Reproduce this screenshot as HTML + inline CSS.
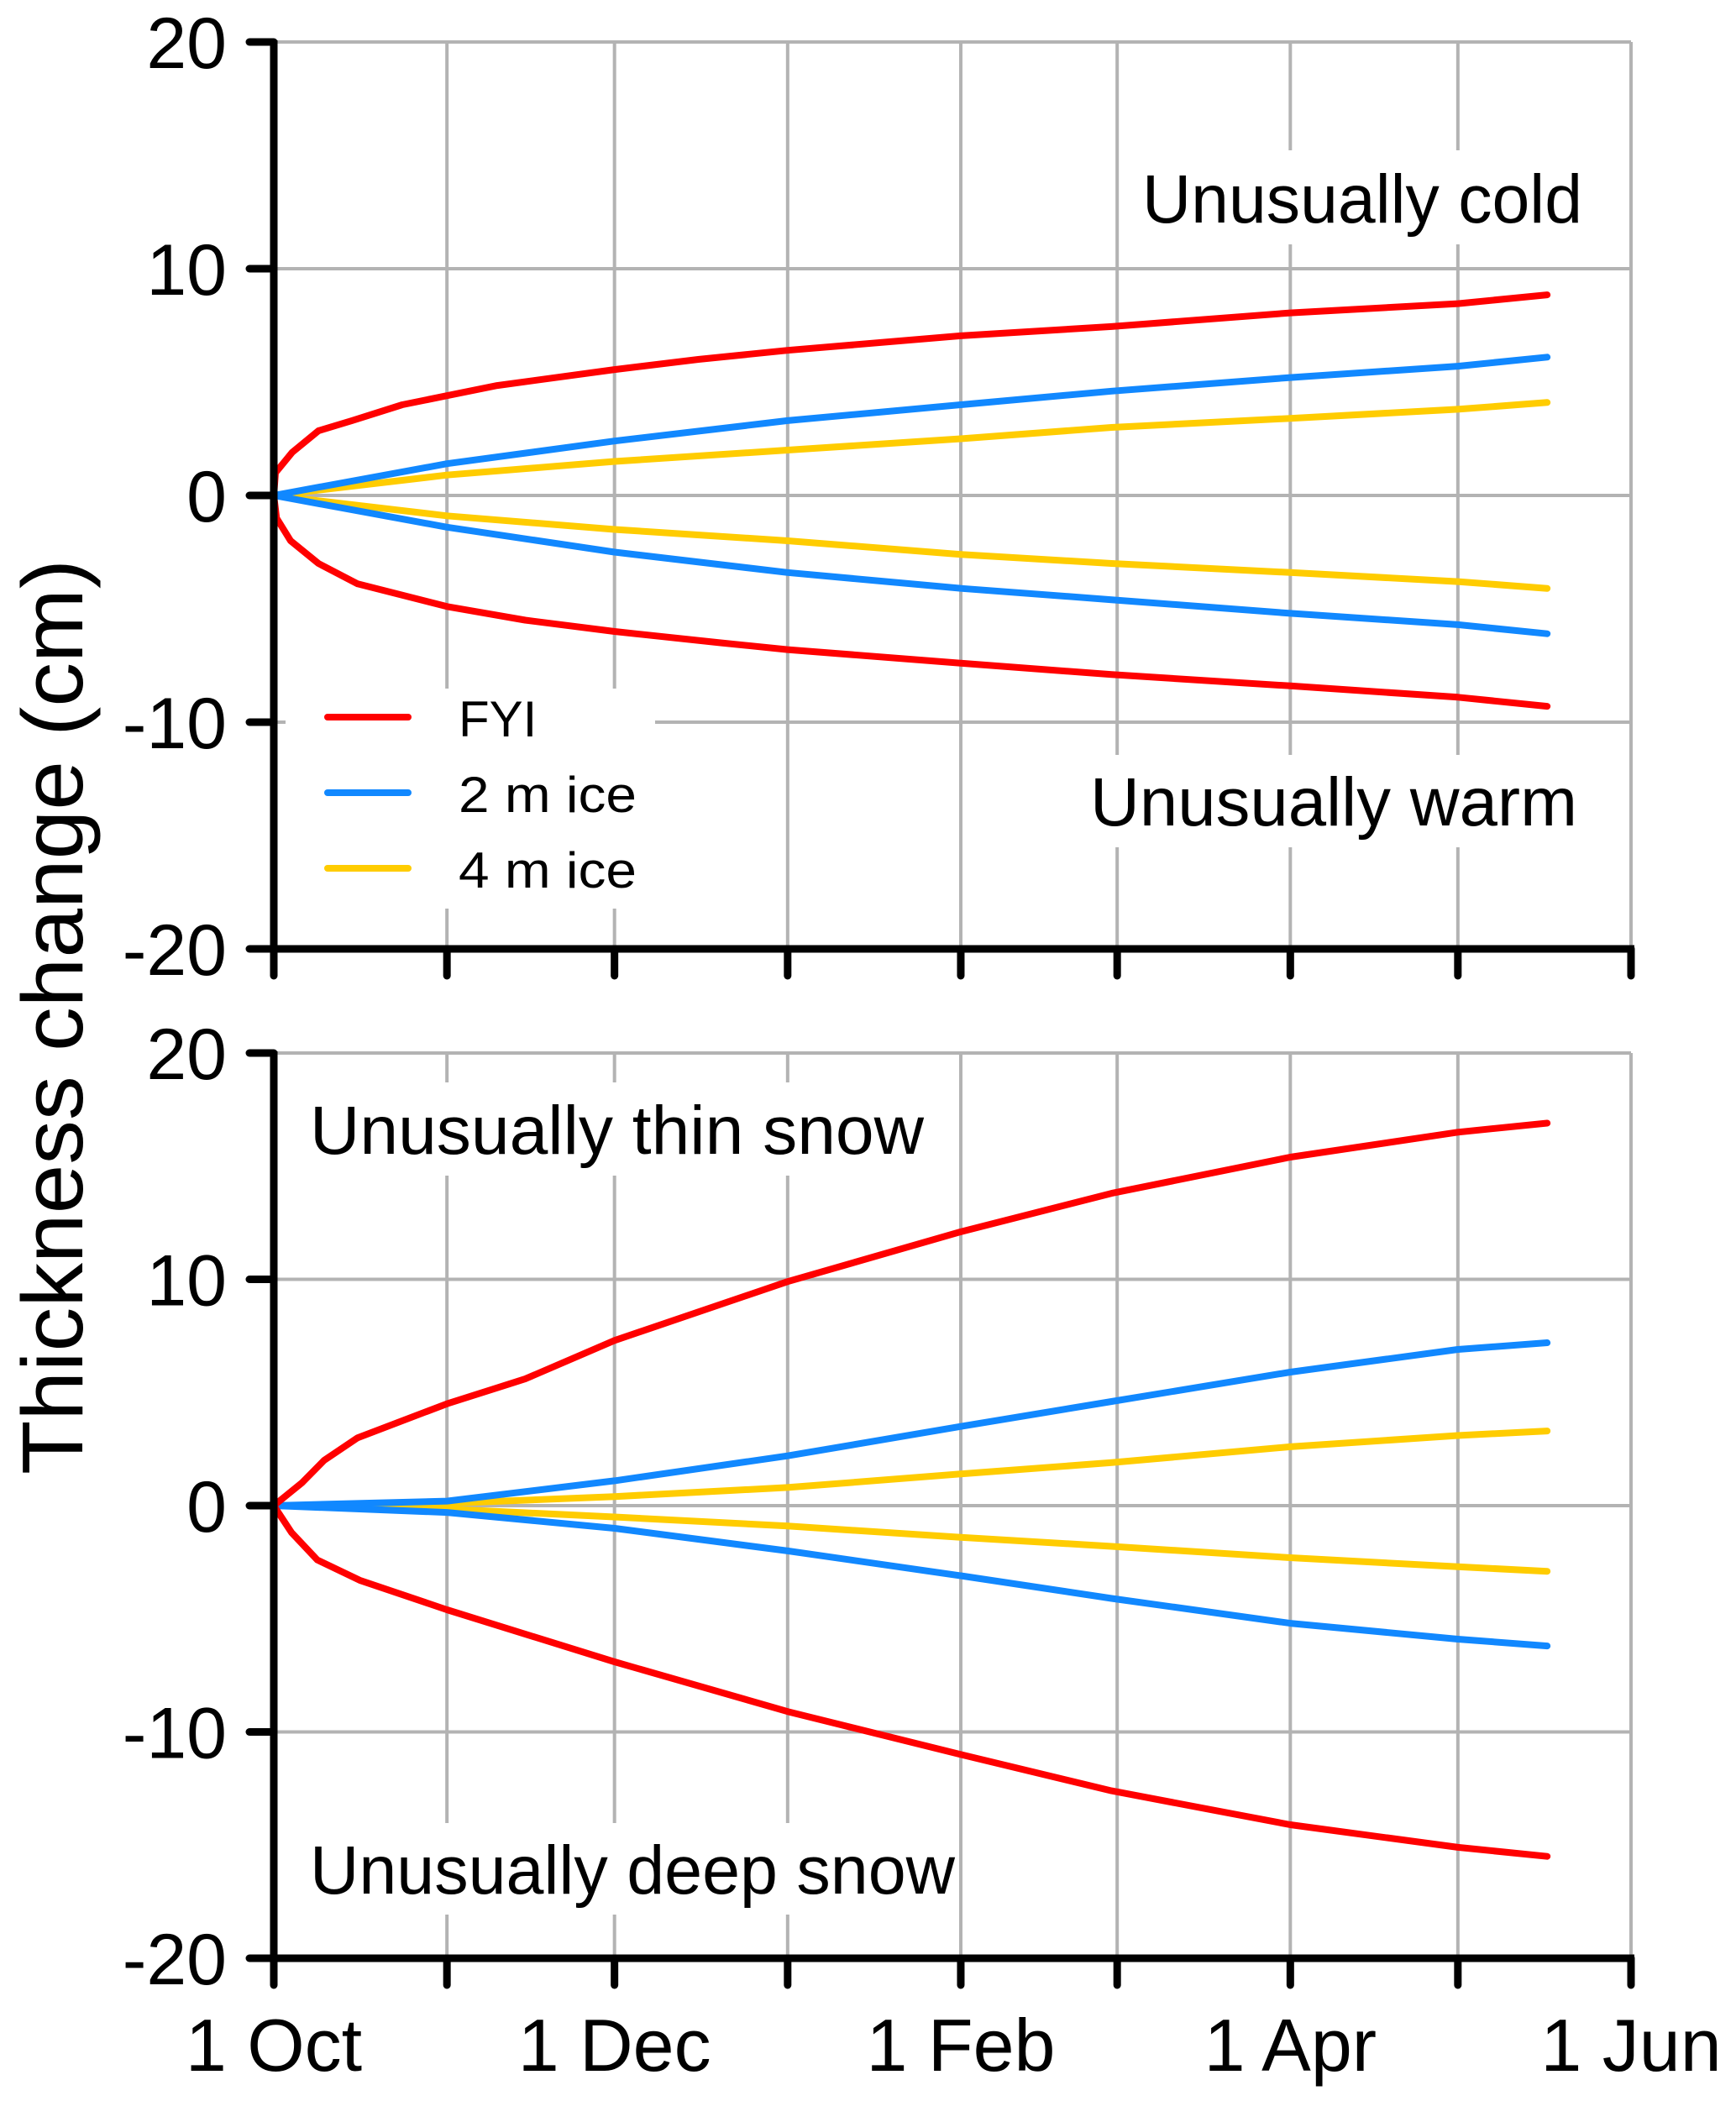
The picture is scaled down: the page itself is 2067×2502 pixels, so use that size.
<!DOCTYPE html>
<html><head><meta charset="utf-8"><style>html,body{margin:0;padding:0;background:#fff}svg{display:block}</style></head>
<body>
<svg id="chart" xmlns="http://www.w3.org/2000/svg" width="2067" height="2502" viewBox="0 0 2067 2502" font-family="Liberation Sans, Arial, sans-serif">
<rect width="2067" height="2502" fill="#fff"/>
<g id="grid"></g>
<g id="boxes"></g>
<g id="lines"></g>
<g id="axes"></g>
<g id="labels"></g>
</svg>
<script>
// ---- data ----
const days = [0, 31, 61, 92, 123, 151, 182, 212, 243];
const monthNames = ["1 Oct","1 Nov","1 Dec","1 Jan","1 Feb","1 Mar","1 Apr","1 May","1 Jun"];
const yTicks = [20, 10, 0, -10, -20];
// top panel
const topRedUpDays = [0, 0.3, 3.3, 8, 14, 23, 31, 40, 61, 76, 92, 123, 150, 182, 212, 228];
const topRedUpVals = [0, 1.0, 1.9, 2.85, 3.3, 4.0, 4.4, 4.85, 5.55, 6.0, 6.4, 7.04, 7.45, 8.05, 8.46, 8.85];
const topRedDnDays = [0, 0.5, 3, 8, 15, 23, 31, 45, 61, 80, 92, 123, 150, 182, 212, 228];
const topRedDnVals = [0, -1.0, -2.0, -3.0, -3.9, -4.4, -4.9, -5.5, -6.0, -6.5, -6.8, -7.4, -7.9, -8.4, -8.9, -9.3];
const curveDays = [0, 31, 61, 92, 123, 150, 182, 212, 228];
const topBlueUpVals = [0, 1.4, 2.4, 3.3, 4.0, 4.6, 5.2, 5.7, 6.1];
const topBlueDnVals = [0, -1.4, -2.5, -3.4, -4.1, -4.6, -5.2, -5.7, -6.1];
const topYelUpVals = [0, 0.9, 1.5, 2.0, 2.5, 3.0, 3.4, 3.8, 4.1];
const topYelDnVals = [0, -0.9, -1.5, -2.0, -2.6, -3.0, -3.4, -3.8, -4.1];
// bottom panel
const botRedUpDays = [0, 5, 9, 15, 31, 45, 61, 92, 123, 150, 182, 212, 228];
const botRedUpVals = [0, 1.0, 2.0, 3.0, 4.5, 5.6, 7.3, 9.9, 12.1, 13.8, 15.4, 16.5, 16.9];
const botRedDnDays = [0, 3.2, 7.8, 15.4, 31, 61, 92, 123, 150, 182, 212, 228];
const botRedDnVals = [0, -1.2, -2.4, -3.3, -4.6, -6.9, -9.1, -11.0, -12.6, -14.1, -15.1, -15.5];
const botBlueUpVals = [0, 0.2, 1.1, 2.2, 3.5, 4.6, 5.9, 6.9, 7.2];
const botBlueDnVals = [0, -0.3, -1.0, -2.0, -3.1, -4.1, -5.2, -5.9, -6.2];
const botYelUpVals = [0, 0.1, 0.4, 0.8, 1.4, 1.9, 2.6, 3.1, 3.3];
const botYelDnVals = [0, -0.15, -0.5, -0.9, -1.4, -1.8, -2.3, -2.7, -2.9];

const NS = "http://www.w3.org/2000/svg";
const X0 = 326, X1 = 1942;
const panels = [{top:50, bottom:1130, name:"top"}, {top:1254, bottom:2332, name:"bottom"}];
const xs = d => X0 + (X1 - X0) * d / 243;
const ysF = p => v => p.top + (20 - v) / 40 * (p.bottom - p.top);
function mk(tag, attrs, parent){ const e=document.createElementNS(NS,tag); for(const k in attrs) e.setAttribute(k,attrs[k]); parent.appendChild(e); return e; }
const G = id => document.getElementById(id);

panels.forEach(p=>{
  const ys = ysF(p);
  yTicks.forEach(t=>{
    const l = mk("line",{x1:X0,x2:X1,y1:ys(t),y2:ys(t),stroke:"#b3b3b3","stroke-width":4},G("grid"));
    
    
  });
  days.forEach(d=>{
    const l = mk("line",{x1:xs(d),x2:xs(d),y1:p.top,y2:p.bottom,stroke:"#b3b3b3","stroke-width":4},G("grid"));
    
    
  });
  // axes
  const ax = mk("line",{x1:X0,x2:X0,y1:p.top-2,y2:p.bottom+4,stroke:"#000","stroke-width":9},G("axes"));
  
  
  const bx = mk("line",{x1:X0,x2:X1+4,y1:p.bottom,y2:p.bottom,stroke:"#000","stroke-width":9},G("axes"));
  
  
  yTicks.forEach(t=>{
    const tk = mk("line",{x1:297,x2:X0,y1:ys(t),y2:ys(t),stroke:"#000","stroke-width":9,"stroke-linecap":"round"},G("axes"));
    
    
    const tx = mk("text",{x:270,y:ys(t)+31,"text-anchor":"end","font-size":86,fill:"#000"},G("labels"));
    tx.textContent = t;
    
    
  });
  days.forEach(d=>{
    const tk = mk("line",{x1:xs(d),x2:xs(d),y1:p.bottom,y2:p.bottom+32,stroke:"#000","stroke-width":9,"stroke-linecap":"round"},G("axes"));
    
    
  });
});
// x labels (bottom)
days.forEach((d,i)=>{
  if(i%2) return;
  const tx = mk("text",{x:xs(d),y:2466,"text-anchor":"middle","font-size":88,fill:"#000"},G("labels"));
  tx.textContent = monthNames[i];
  
  
});
// white boxes behind texts
[[340,820,440,262],[1345,179,555,112],[1290,899,600,110],[340,1289,770,111],[340,2171,800,109]].forEach(b=>{
  const r = mk("rect",{x:b[0],y:b[1],width:b[2],height:b[3],fill:"#fff"},G("boxes"));
  
  
});
function series(p, dArr, vArr, color, name){
  const ys = ysF(p);
  const pts = dArr.map((d,i)=>xs(d).toFixed(1)+","+ys(vArr[i]).toFixed(1)).join(" ");
  const pl = mk("polyline",{points:pts,fill:"none",stroke:color,"stroke-width":8,"stroke-linecap":"round","stroke-linejoin":"round"},G("lines"));
  
  
}
const RED="#ff0000", BLUE="#1188ff", YEL="#ffcc00";
series(panels[0], curveDays, topYelUpVals, YEL, 'top-4m-ice-cold');
series(panels[0], curveDays, topYelDnVals, YEL, 'top-4m-ice-warm');
series(panels[0], curveDays, topBlueUpVals, BLUE, 'top-2m-ice-cold');
series(panels[0], curveDays, topBlueDnVals, BLUE, 'top-2m-ice-warm');
series(panels[0], topRedUpDays, topRedUpVals, RED, 'top-fyi-cold');
series(panels[0], topRedDnDays, topRedDnVals, RED, 'top-fyi-warm');
series(panels[1], curveDays, botYelUpVals, YEL, 'bottom-4m-ice-thin-snow');
series(panels[1], curveDays, botYelDnVals, YEL, 'bottom-4m-ice-deep-snow');
series(panels[1], curveDays, botBlueUpVals, BLUE, 'bottom-2m-ice-thin-snow');
series(panels[1], curveDays, botBlueDnVals, BLUE, 'bottom-2m-ice-deep-snow');
series(panels[1], botRedUpDays, botRedUpVals, RED, 'bottom-fyi-thin-snow');
series(panels[1], botRedDnDays, botRedDnVals, RED, 'bottom-fyi-deep-snow');
</script>
<svg width="0" height="0" style="position:absolute"></svg>
<script>
(function(){
const NS="http://www.w3.org/2000/svg", L=document.getElementById("labels");
function t(x,y,size,str,len,name,extra){
  const e=document.createElementNS(NS,"text");
  e.setAttribute("x",x);e.setAttribute("y",y);e.setAttribute("font-size",size);
  if(len){e.setAttribute("textLength",len);e.setAttribute("lengthAdjust","spacingAndGlyphs");}
  if(extra) for(const k in extra) e.setAttribute(k,extra[k]);
  e.textContent=str;
  
  
  L.appendChild(e);
}
t(1360,265,82,"Unusually cold",524,'annotation-unusually-cold');
t(1298,983,82,"Unusually warm",580,'annotation-unusually-warm');
t(369,1374,82,"Unusually thin snow",731,'annotation-unusually-thin-snow');
t(369,2255,82,"Unusually deep snow",768,'annotation-unusually-deep-snow');
const legend=[["FYI","#ff0000",854],["2 m ice","#1188ff",944],["4 m ice","#ffcc00",1034]];
legend.forEach(r=>{
  const l=document.createElementNS(NS,"line");
  l.setAttribute("x1",390);l.setAttribute("x2",486);l.setAttribute("y1",r[2]);l.setAttribute("y2",r[2]);
  l.setAttribute("stroke",r[1]);l.setAttribute("stroke-width",8);l.setAttribute("stroke-linecap","round");
  
  
  L.appendChild(l);
});
t(546,877,60,"FYI",null,'legend-entry-fyi');
t(546,967,60,"2 m ice",212,'legend-entry-2m-ice');
t(546,1057,60,"4 m ice",212,'legend-entry-4m-ice');
t(0,0,103,"Thickness change (cm)",1090,'y-axis-title',{transform:"translate(98,1211) rotate(-90)","text-anchor":"middle"});
})();
</script>
</body></html>
